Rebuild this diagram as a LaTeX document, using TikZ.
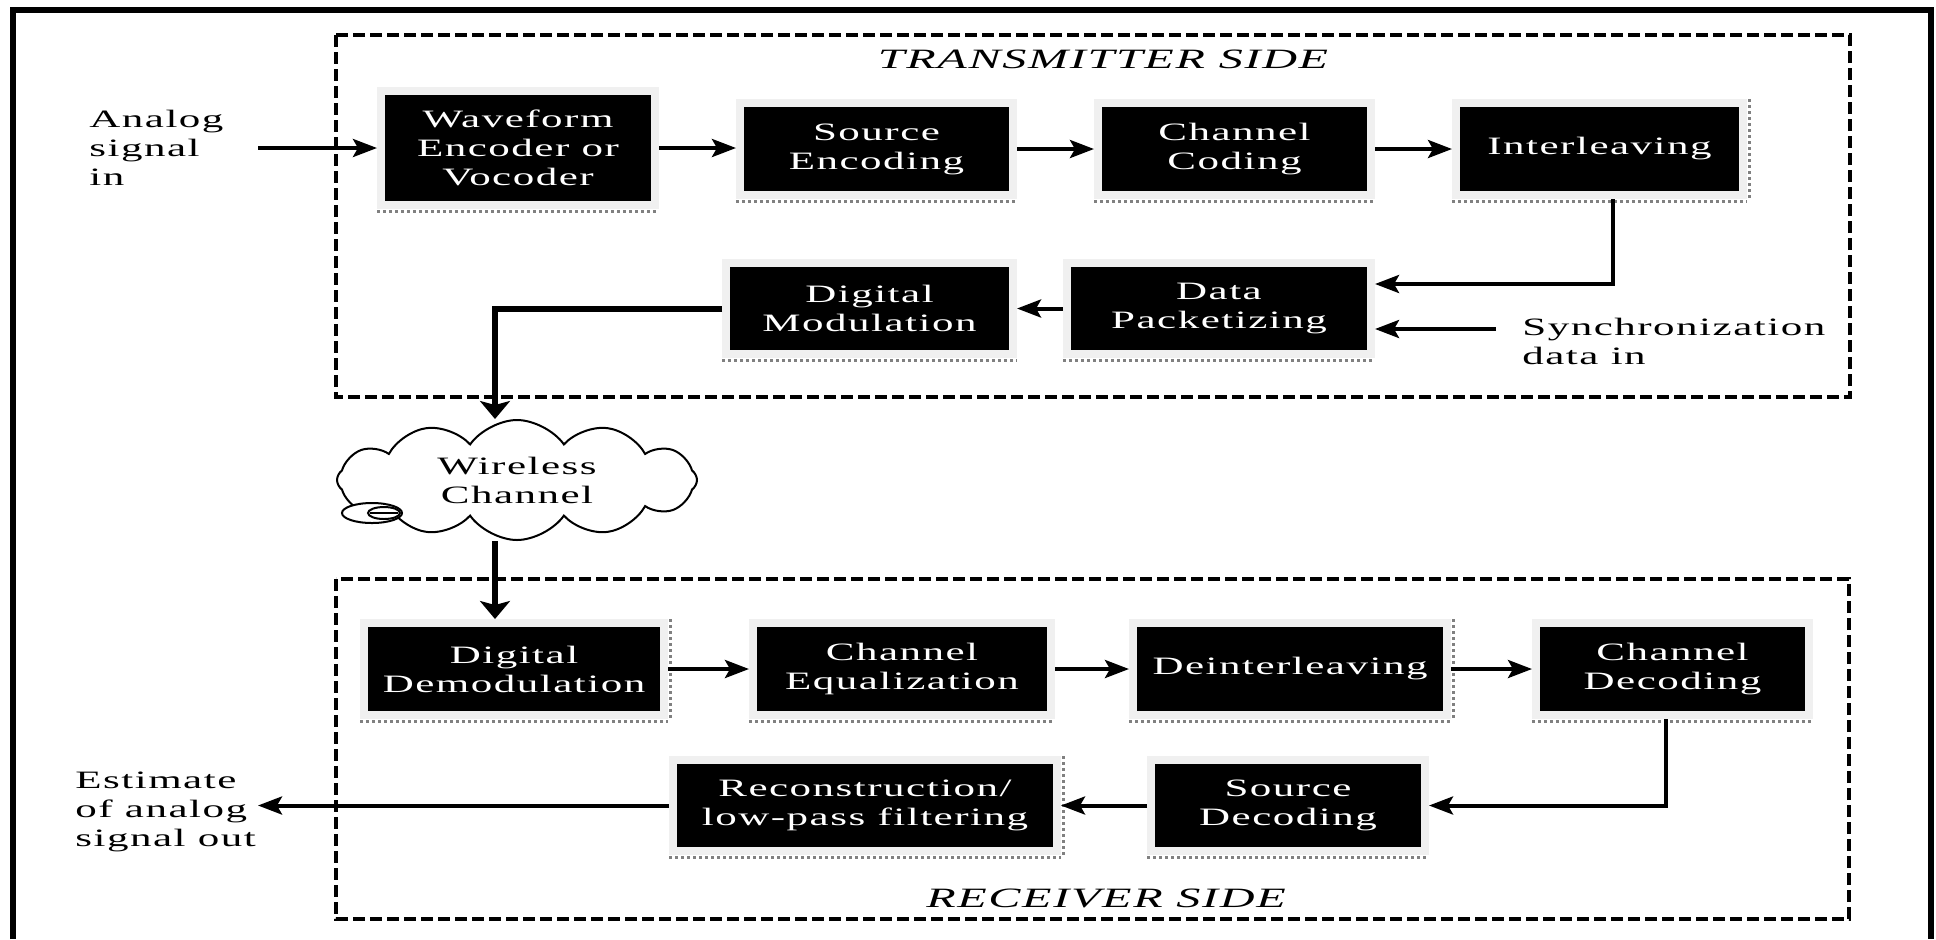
\documentclass[tikz,border=0pt]{standalone}
\usepackage{fontspec}
\setmainfont{Liberation Serif}
\newfontfamily\dfont{Liberation Serif}[FakeStretch=1.72,LetterSpace=6]
\usetikzlibrary{arrows.meta,shapes.symbols,calc}
\definecolor{bandgray}{HTML}{F0F0F0}
\definecolor{dotgray}{HTML}{808080}
\newcommand\boxfont{\dfont\fontsize{12.5}{14.5}\selectfont}
\newcommand\titlefont{\dfont\itshape\fontsize{14}{16}\selectfont}
\tikzset{
  blk/.style={draw=bandgray, fill=black, line width=4pt, text=white, font=\boxfont, align=center, inner sep=0pt},
  dotline/.style={draw=dotgray, line width=1.5pt, dash pattern=on 1.5pt off 1.5pt},
  arr/.style={line width=2pt, -{Stealth[length=12pt,width=9pt,inset=2.5pt]}},
  thickarr/.style={line width=3pt, -{Stealth[length=9pt,width=15pt,inset=2pt]}},
  dashbox/.style={line width=2pt, dash pattern=on 6pt off 2.5pt},
  sidetext/.style={font=\boxfont, align=left, inner sep=0pt, anchor=west},
  titletext/.style={font=\titlefont, inner sep=0pt}
}
\newcommand\dotbottom[1]{\draw[dotline] ([yshift=-1pt]#1.south west) -- ([yshift=-1pt]#1.south east);}
\newcommand\dotright[1]{\draw[dotline] ([xshift=1pt]#1.north east) -- ([xshift=1pt]#1.south east);}
\begin{document}
\begin{tikzpicture}[x=0.5pt,y=-0.5pt]
\useasboundingbox (0,0) rectangle (1936,939);
% outer frame
\draw[line width=3pt] (13,939) -- (13,9.5) -- (1931,9.5) -- (1931,939);
% dashed boxes
\draw[dashbox] (336,35) rectangle (1850,397);
\draw[dashbox] (336,579) rectangle (1849,919);
\node[titletext] (ttx) at (1103,59) {TRANSMITTER SIDE};
\node[titletext] (trx) at (1106,898) {RECEIVER SIDE};
% transmitter boxes
\node[blk, minimum width=137pt, minimum height=57pt] (wave) at (518,148) {Waveform\\Encoder or\\Vocoder};
\node[blk, minimum width=136.5pt, minimum height=46pt] (srcenc) at (876.5,149) {Source\\Encoding};
\node[blk, minimum width=136.5pt, minimum height=46pt] (chcod) at (1234.5,149) {Channel\\Coding};
\node[blk, minimum width=143.5pt, minimum height=46pt] (inter) at (1599.5,149) {Interleaving};
\node[blk, minimum width=143.5pt, minimum height=45.5pt] (digmod) at (869.5,308.5) {Digital\\Modulation};
\node[blk, minimum width=152pt, minimum height=45.5pt] (datapk) at (1219,308.5) {Data\\Packetizing};
% receiver boxes
\node[blk, minimum width=150pt, minimum height=46pt] (demod) at (514,669) {Digital\\Demodulation};
\node[blk, minimum width=149pt, minimum height=46pt] (equal) at (902,669) {Channel\\Equalization};
\node[blk, minimum width=157pt, minimum height=46pt] (deint) at (1290,669) {Deinterleaving};
\node[blk, minimum width=136.5pt, minimum height=46pt] (chdec) at (1672.5,669) {Channel\\Decoding};
\node[blk, minimum width=192pt, minimum height=45.5pt] (recon) at (865,805.5) {Reconstruction/\\low-pass filtering};
\node[blk, minimum width=137pt, minimum height=45.5pt] (srcdec) at (1288,805.5) {Source\\Decoding};
% shadows
\foreach \b in {wave,srcenc,chcod,inter,digmod,datapk,demod,equal,deint,chdec,recon,srcdec}{\dotbottom{\b}}
\foreach \b in {inter,demod,deint,recon}{\dotright{\b}}
% cloud
\node[cloud, draw, fill=white, line width=1pt, cloud puffs=12, cloud puff arc=110, aspect=3,
      minimum width=180pt, minimum height=60pt, inner sep=0pt, font=\boxfont, align=center] (cloud) at (517,480) {Wireless\\Channel};
\draw[line width=1pt, fill=white] (372,513) ellipse [x radius=15pt, y radius=5pt];
\draw[line width=1pt] (384,513) ellipse [x radius=8pt, y radius=3pt];
\draw[line width=1pt] (370,513) -- (398,513);
% side texts
\node[sidetext] (aintext) at (89,148) {Analog\\signal\\in};
\node[sidetext] (aouttext) at (75,812) {Estimate\\of analog\\signal out};
\node[sidetext] (synctext) at (1522,341) {Synchronization\\data in};
\coordinate (ain) at (258,148);
\coordinate (aout) at (258,805.5);
\coordinate (syncin) at (1496,329);
% transmitter connectors
\draw[arr] (ain) -- (wave.west);
\draw[arr] (wave.east) -- (wave.east -| srcenc.west);
\draw[arr] (srcenc.east) -- (chcod.west);
\draw[arr] (chcod.east) -- (inter.west);
\draw[arr] ([xshift=6.75pt]inter.south) |- ($(datapk.east)+(0,-24.5)$);
\draw[arr] (syncin) -- (syncin -| datapk.east);
\draw[arr] (datapk.west) -- (digmod.east);
\draw[thickarr] (digmod.west) -| ([xshift=-11pt]cloud.north);
% receiver connectors
\draw[thickarr] ([xshift=-11pt]cloud.south) -- ([xshift=-11pt]cloud.south |- demod.north);
\draw[arr] (demod.east) -- (equal.west);
\draw[arr] (equal.east) -- (deint.west);
\draw[arr] (deint.east) -- (chdec.west);
\draw[arr] ([xshift=-3.25pt]chdec.south) |- (srcdec.east);
\draw[arr] (srcdec.west) -- (recon.east);
\draw[arr] (recon.west) -- (aout);
\end{tikzpicture}
\end{document}
